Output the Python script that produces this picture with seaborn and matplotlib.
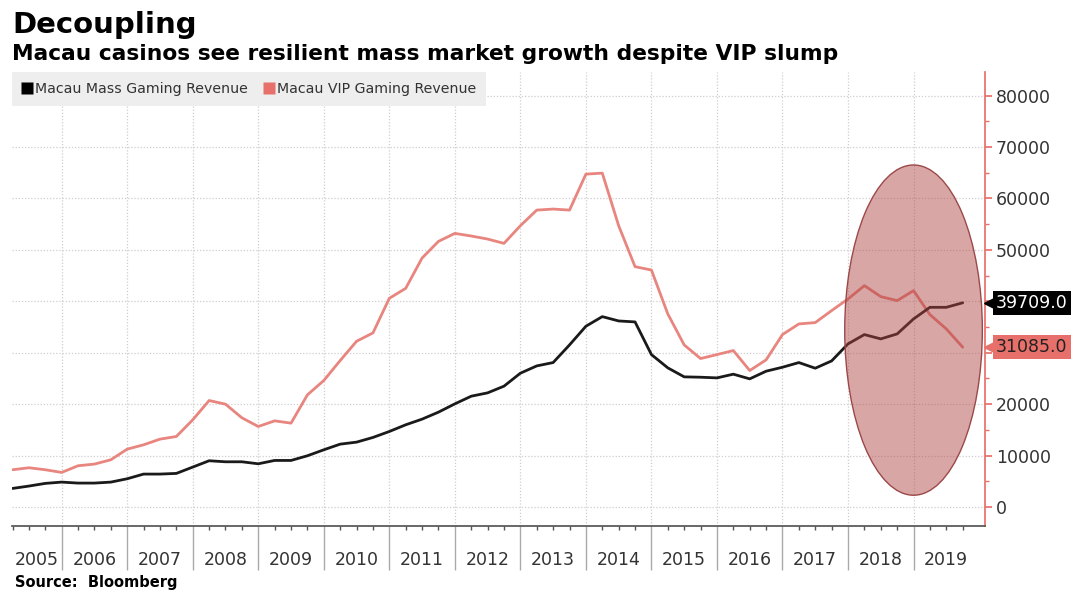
import numpy as np
import pandas as pd
import matplotlib
matplotlib.use("Agg")
import matplotlib.pyplot as plt
import matplotlib.transforms as mtransforms
from matplotlib.patches import Ellipse
from matplotlib.lines import Line2D
import seaborn as sns

# === Data (quarterly, MOP millions) ===
quarters = pd.period_range("2005Q1", "2019Q3", freq="Q")
mass_rev = [3620, 4080, 4600, 4850, 4660, 4660, 4850, 5500, 6410, 6410, 6540, 7770, 9000, 8800, 8800,
            8410, 9060, 9060, 9970, 11130, 12230, 12620, 13530, 14690, 15990, 17090, 18450, 20060, 21550, 22200,
            23500, 26020, 27440, 28090, 31520, 35150, 37020, 36180, 35990, 29640, 27060, 25310, 25240, 25110, 25830,
            24920, 26410, 27180, 28090, 26990, 28410, 31720, 33530, 32690, 33660, 36570, 38830, 38830, 39709]
vip_rev = [7250, 7640, 7250, 6730, 8030, 8350, 9190, 11260, 12100, 13200, 13720, 16960, 20710, 20000, 17350,
           15660, 16760, 16310, 21810, 24600, 28480, 32230, 33850, 40580, 42520, 48410, 51650, 53200, 52690, 52100,
           51260, 54690, 57730, 57930, 57730, 64720, 64920, 54690, 46730, 46080, 37540, 31520, 28870, 29640, 30420,
           26540, 28610, 33530, 35600, 35860, 38190, 40450, 43040, 40910, 40130, 42070, 37410, 34630, 31085]
year_labels = list(range(2005, 2020))
y_ticks = list(range(0, 80001, 10000))

BLACK = "#1a1a1a"
PINK = "#e8857f"
RED = "#e8706a"

# quarter-end position as fractional year
t = [q.year + q.quarter / 4 for q in quarters]
df = pd.DataFrame({"t": t, "Mass": mass_rev, "VIP": vip_rev})

sns.set_theme(style="white")
plt.rcParams["font.family"] = ["DejaVu Sans"]

fig = plt.figure(figsize=(10.8, 6.04), dpi=100)
ax = fig.add_axes([0.011, 0.129, 0.901, 0.752])

sns.lineplot(data=df, x="t", y="VIP", ax=ax, color=PINK, lw=2, zorder=3)
sns.lineplot(data=df, x="t", y="Mass", ax=ax, color=BLACK, lw=2, zorder=4)

ax.set_xlim(2005.24, 2020.09)
ax.set_ylim(-3700, 84600)
ax.set_xlabel("")
ax.set_ylabel("")

# highlight ellipse
ax.add_patch(Ellipse((2019.0, 34400), 2.1, 64200, facecolor=(0.69, 0.26, 0.26, 0.47),
                     edgecolor="#9c4848", lw=1, zorder=5))

# grid
ax.set_yticks(y_ticks)
ax.set_yticks(range(5000, 80000, 10000), minor=True)
ax.set_xticks(year_labels[1:])
ax.set_xticks([y + q / 4 for y in year_labels for q in (1, 2, 3)], minor=True)
ax.grid(True, which="major", color="#cfcfcf", ls=(0, (1, 1.5)), lw=0.9)

# spines
for s in ["left", "top"]:
    ax.spines[s].set_visible(False)
ax.spines["right"].set_color(RED)
ax.spines["bottom"].set_color("#555555")

ax.yaxis.tick_right()
ax.tick_params(axis="y", which="major", length=5, color=RED, labelsize=12.5,
               labelcolor="#333333", pad=3, right=True)
ax.tick_params(axis="y", which="minor", length=3, color=RED, right=True)
ax.tick_params(axis="x", which="major", length=32, width=1, color="#aaaaaa",
               bottom=True, labelbottom=False)
ax.tick_params(axis="x", which="minor", length=3, width=1, color="#555555", bottom=True)

# tick labels hidden behind the end-value tags
fig.canvas.draw()
for lab in ax.get_yticklabels():
    if lab.get_text() in ("30000", "40000"):
        lab.set_visible(False)

trans_x = mtransforms.blended_transform_factory(ax.transData, ax.transAxes)
for yr in year_labels:
    xpos = yr + 0.5
    if yr == 2005:
        xpos = 2005.62
    ax.text(xpos, -0.075, str(yr), transform=trans_x, ha="center", va="center",
            fontsize=12.5, color="#333333")

# end-value tags
trans_y = mtransforms.blended_transform_factory(ax.transAxes, ax.transData)
for val, fc, tc in [(mass_rev[-1], "black", "white"), (vip_rev[-1], RED, "#222222")]:
    tip = mtransforms.offset_copy(trans_y, fig=fig, x=8, y=0, units="dots")
    ax.plot([1], [val], marker="<", markersize=13, color=fc, transform=tip,
            clip_on=False, zorder=6)
    ax.annotate(f"{val:.1f}", xy=(1, val), xycoords=trans_y, xytext=(8, 0),
                textcoords="offset points", ha="left", va="center", fontsize=12.5,
                color=tc, bbox=dict(boxstyle="square,pad=0.18", fc=fc, ec="none"),
                annotation_clip=False, zorder=7)

# legend
handles = [
    Line2D([], [], marker="s", color="none", markerfacecolor="black", markeredgecolor="none",
           markersize=8.5, label="Macau Mass Gaming Revenue"),
    Line2D([], [], marker="s", color="none", markerfacecolor=RED, markeredgecolor="none",
           markersize=8.5, label="Macau VIP Gaming Revenue"),
]
leg = ax.legend(handles=handles, loc="upper left", bbox_to_anchor=(0, 1), ncol=2, frameon=True,
                fancybox=False, facecolor="#eeeeee", edgecolor="none", framealpha=1, fontsize=10.2,
                handlelength=0.8, handletextpad=0.15, columnspacing=1.1, borderaxespad=0,
                borderpad=0.7)
for txt in leg.get_texts():
    txt.set_color("#333333")

fig.text(0.011, 0.945, "Decoupling", fontsize=21, fontweight="bold", color="black", va="baseline")
fig.text(0.011, 0.900, "Macau casinos see resilient mass market growth despite VIP slump",
         fontsize=15.7, fontweight="bold", color="black", va="baseline")
fig.text(0.014, 0.028, "Source:  Bloomberg", fontsize=10.5, fontweight="bold", color="black",
         va="baseline")

fig.savefig("out.png", dpi=100)
